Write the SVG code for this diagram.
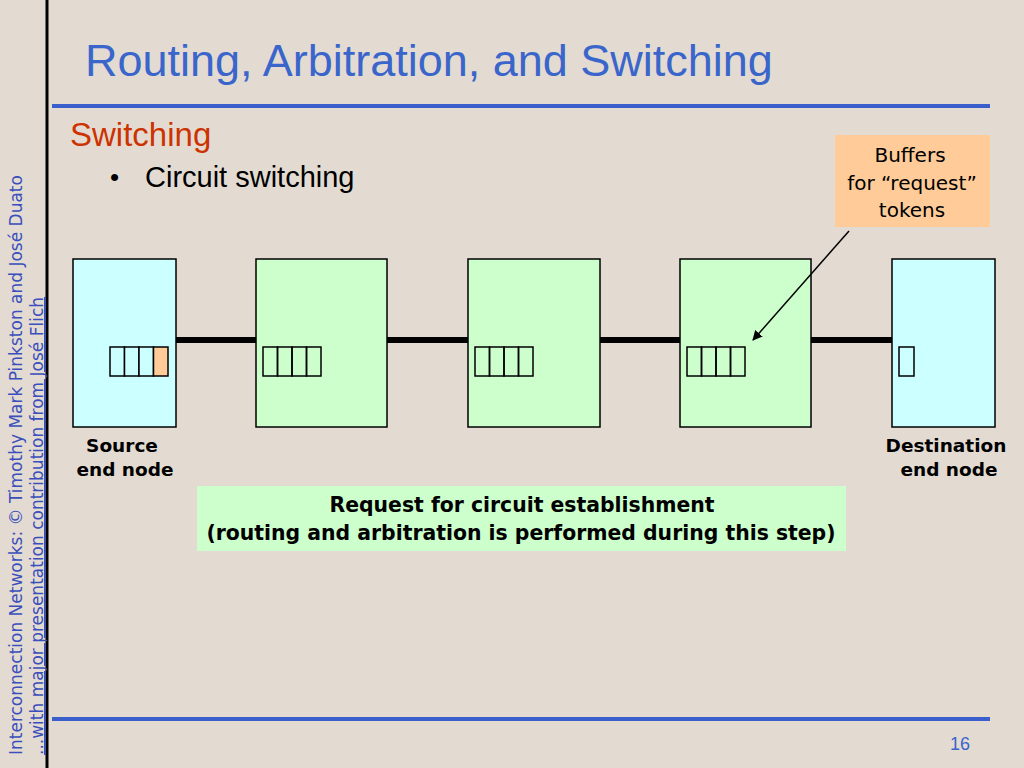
<svg xmlns="http://www.w3.org/2000/svg" width="1024" height="768" viewBox="0 0 1024 768">
<style>
.t{font-family:"DejaVu Sans","Noto Sans",sans-serif}
.a{font-family:"Liberation Sans",Arial,sans-serif}
.cell{stroke:#000;stroke-width:1.5}
.node{stroke:#000;stroke-width:1.5}
.lbl{font-weight:bold;font-size:18.5px;fill:#000}
.big{font-size:20.4px}
</style>
<defs><marker id="ah" markerWidth="10" markerHeight="10" refX="9" refY="5" orient="auto" markerUnits="userSpaceOnUse"><path d="M0,0 L10,5 L0,10 z" fill="#000"/></marker></defs>
<rect width="1024" height="768" fill="#e3dbd2"/>
<line x1="47" y1="0" x2="47" y2="768" stroke="#000" stroke-width="3"/>
<line x1="52" y1="106" x2="990" y2="106" stroke="#3a5fcd" stroke-width="4"/>
<line x1="52" y1="719" x2="990" y2="719" stroke="#3a5fcd" stroke-width="4"/>
<text class="a" x="85" y="76" font-size="45" fill="#3a66cc">Routing, Arbitration, and Switching</text>
<text class="a" x="70" y="146" font-size="33" fill="#cc3300">Switching</text>
<text class="a" x="110" y="186" font-size="26" fill="#000">•</text>
<text class="a" x="145" y="187" font-size="29" fill="#000">Circuit switching</text>
<text class="t" transform="translate(22,755) rotate(-90)" font-size="17" fill="#3a4fbb">Interconnection Networks: © Timothy Mark Pinkston and José Duato</text>
<text class="t" transform="translate(43,755) rotate(-90)" font-size="17" fill="#3a4fbb" text-decoration="underline">...with major presentation contribution from José Flich</text>
<text class="a" x="970" y="750" font-size="18" fill="#3a66cc" text-anchor="end">16</text>
<g id="source"><rect class="node" x="73" y="259" width="103" height="168" fill="#ccffff"/>
<g fill="#ccffff"><rect class="cell" x="110" y="347" width="14.5" height="29"/><rect class="cell" x="124.5" y="347" width="14.5" height="29"/><rect class="cell" x="139" y="347" width="14.5" height="29"/><rect class="cell" x="153.5" y="347" width="14.5" height="29" fill="#ffcc99"/></g></g>
<g id="sw1"><rect class="node" x="256" y="259" width="131" height="168" fill="#ccffcc"/>
<g fill="none"><rect class="cell" x="263" y="347" width="14.5" height="29"/><rect class="cell" x="277.5" y="347" width="14.5" height="29"/><rect class="cell" x="292" y="347" width="14.5" height="29"/><rect class="cell" x="306.5" y="347" width="14.5" height="29"/></g></g>
<g id="sw2"><rect class="node" x="468" y="259" width="132" height="168" fill="#ccffcc"/>
<g fill="none"><rect class="cell" x="475" y="347" width="14.5" height="29"/><rect class="cell" x="489.5" y="347" width="14.5" height="29"/><rect class="cell" x="504" y="347" width="14.5" height="29"/><rect class="cell" x="518.5" y="347" width="14.5" height="29"/></g></g>
<g id="sw3"><rect class="node" x="680" y="259" width="131" height="168" fill="#ccffcc"/>
<g fill="none"><rect class="cell" x="687" y="347" width="14.5" height="29"/><rect class="cell" x="701.5" y="347" width="14.5" height="29"/><rect class="cell" x="716" y="347" width="14.5" height="29"/><rect class="cell" x="730.5" y="347" width="14.5" height="29"/></g></g>
<g id="dest"><rect class="node" x="892" y="259" width="103" height="168" fill="#ccffff"/>
<rect class="cell" x="899" y="347" width="15" height="29" fill="none"/></g>
<g id="connectors" stroke="#000" stroke-width="6">
<line x1="176" y1="340" x2="256" y2="340"/>
<line x1="387" y1="340" x2="468" y2="340"/>
<line x1="600" y1="340" x2="680" y2="340"/>
<line x1="811" y1="340" x2="892" y2="340"/>
<line x1="849" y1="231" x2="753" y2="340" stroke-width="1.5" marker-end="url(#ah)"/>
</g>
<text class="t lbl" x="122" y="452" text-anchor="middle">Source</text>
<text class="t lbl" x="125" y="476" text-anchor="middle">end node</text>
<text class="t lbl" x="946" y="452" text-anchor="middle">Destination</text>
<text class="t lbl" x="949" y="476" text-anchor="middle">end node</text>
<g id="callout"><rect x="835" y="135" width="155" height="92" fill="#ffcc99"/>
<text class="t" font-size="20" text-anchor="middle" x="910"><tspan x="910" y="162">Buffers</tspan><tspan x="912" y="190">for “request”</tspan><tspan x="912" y="217">tokens</tspan></text></g>
<g id="note"><rect x="197" y="486" width="649" height="65" fill="#ccffcc"/>
<text class="t lbl big" x="522" y="512" text-anchor="middle">Request for circuit establishment</text>
<text class="t lbl big" x="521" y="540" text-anchor="middle">(routing and arbitration is performed during this step)</text></g>
</svg>
